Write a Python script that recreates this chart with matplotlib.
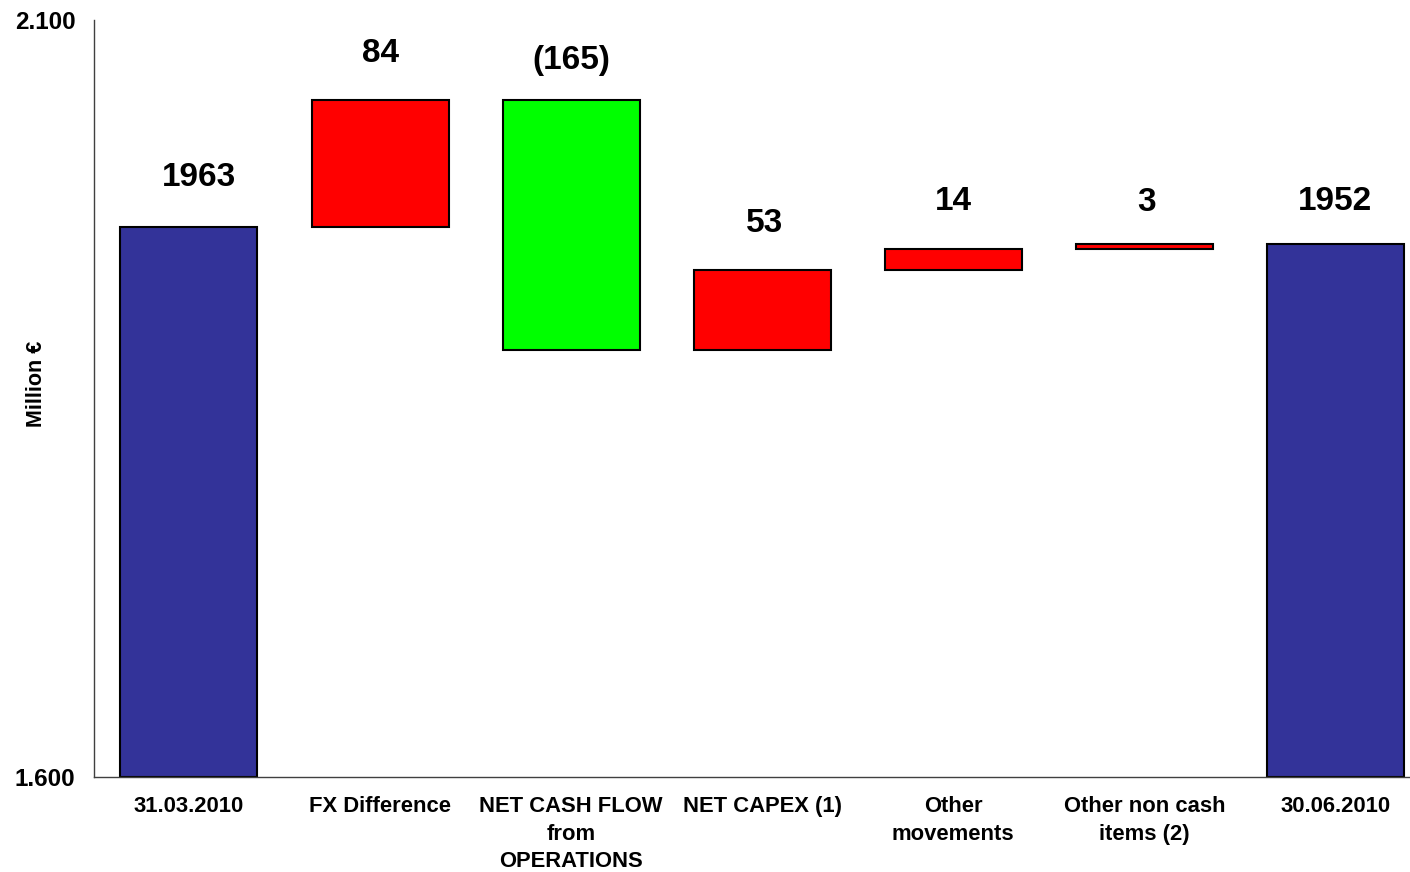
import matplotlib.pyplot as plt
import numpy as np

plt.rcParams['font.family'] = ['Liberation Sans', 'DejaVu Sans']
plt.rcParams['font.weight'] = 'bold'

categories = ['31.03.2010', 'FX Difference', 'NET CASH FLOW\nfrom\nOPERATIONS',
              'NET CAPEX (1)', 'Other\nmovements', 'Other non cash\nitems (2)',
              '30.06.2010']
# signed movements of net debt between the opening and closing totals
opening = 1963
changes = [84, -165, 53, 14, 3]
closing = 1952
value_labels = ['1963', '84', '(165)', '53', '14', '3', '1952']

BLUE = '#333399'
RED = '#FF0000'
GREEN = '#00FF00'

# label nudges (points) relative to each bar's top
label_dx = [7, 0, 0, 1.5, 0, 1.5, 0]
label_dy = [30, 27.5, 22.5, 27.5, 27.5, 24, 24.5]

# build bottoms/heights for the floating bars
bottoms, heights, colors, tops = [1600], [opening - 1600], [BLUE], [opening]
level = opening
for c in changes:
    new = level + c
    bottoms.append(min(level, new))
    heights.append(abs(c))
    colors.append(RED if c > 0 else GREEN)
    tops.append(max(level, new))
    level = new
bottoms.append(1600)
heights.append(closing - 1600)
colors.append(BLUE)
tops.append(closing)

fig = plt.figure(figsize=(14.1, 8.72), dpi=100)
ax = fig.add_axes([94 / 1410, 1 - 777 / 872, (1410 - 94) / 1410, (777 - 20) / 872])

x = np.arange(len(categories))
ax.bar(x, heights, bottom=bottoms, width=0.717, color=colors,
       edgecolor='black', linewidth=1.5)

for xi, top, lab, dx, dy in zip(x, tops, value_labels, label_dx, label_dy):
    ax.annotate(lab, (xi, top), xytext=(dx, dy), textcoords='offset points',
                ha='center', va='baseline', fontsize=24, fontweight='bold')

ax.set_xlim(-0.497, 6.39)
ax.set_ylim(1600, 2100)
ax.set_yticks([1600, 2100])
ax.set_yticklabels(['1.600', '2.100'], fontsize=17.5, fontweight='bold')
ax.set_xticks(x)
ax.set_xticklabels(categories, fontsize=15.8, fontweight='bold', linespacing=1.4,
                   va='top')
ax.tick_params(axis='both', length=0)
ax.tick_params(axis='y', pad=13.5)
ax.tick_params(axis='x', pad=14)

ax.spines['top'].set_visible(False)
ax.spines['right'].set_visible(False)
ax.spines['left'].set_color('#404040')
ax.spines['bottom'].set_color('#404040')
ax.spines['left'].set_linewidth(1.0)
ax.spines['bottom'].set_linewidth(1.0)

fig.text(37 / 1410, 1 - 384 / 872, 'Million €', rotation=90, ha='center',
         va='center', fontsize=15.5, fontweight='bold')

fig.savefig('out.png', dpi=100)
